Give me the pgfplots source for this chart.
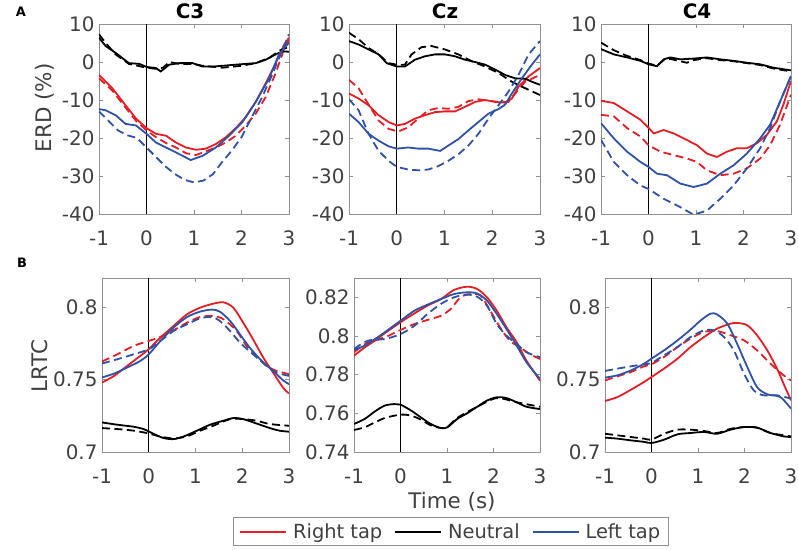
\documentclass[border=0pt]{standalone}
\usepackage{fontspec}
\setmainfont{DejaVu Sans}
\usepackage{pgfplots}
\pgfplotsset{compat=1.18}
\definecolor{cred}{RGB}{228,30,36}
\definecolor{cblue}{RGB}{48,82,165}
\definecolor{axcol}{RGB}{145,145,145}
\definecolor{txtcol}{RGB}{64,64,64}

\pgfplotsset{
  panel/.style={
    scale only axis,
    xmin=-1, xmax=3,
    xtick={-1,0,1,2,3}, xticklabels={-1,0,1,2,3},
    tick align=inside, major tick length=4bp,
    axis line style={axcol, line width=0.9bp},
    tick style={axcol, line width=0.9bp},
    tick label style={font=\fontsize{20}{20}\selectfont, text=txtcol},
    xticklabel style={yshift=-13bp},
    yticklabel style={xshift=-1bp},
  },
  erd/.style={panel, width=190bp, height=190bp, ymin=-40, ymax=10,
    ytick={-40,-30,-20,-10,0,10}, yticklabels={-40,-30,-20,-10,0,10}},
  lrtc/.style={panel, width=186bp, height=174bp},
  rsol/.style={cred, line width=1.8bp},
  rdash/.style={cred, line width=1.8bp, dash pattern=on 8bp off 4.5bp},
  ksol/.style={black, line width=1.8bp},
  kdash/.style={black, line width=1.8bp, dash pattern=on 8bp off 4.5bp},
  bsol/.style={cblue, line width=1.8bp},
  bdash/.style={cblue, line width=1.8bp, dash pattern=on 8bp off 4.5bp},
  zero/.style={black, line width=1.1bp, forget plot},
}

\begin{document}
\begin{tikzpicture}
\useasboundingbox (0,0) rectangle (798bp,550bp);

% ---------- A: ERD ----------
\begin{axis}[erd, at={(99bp,336bp)}, anchor=south west]
\addplot[zero] coordinates {(0,-40) (0,10)};
\addplot[rdash] coordinates {(-1,-4.3) (-0.72,-7.5) (-0.44,-12) (-0.22,-15.5) (0,-18) (0.2,-19.8) (0.41,-21.3) (0.62,-22.5) (0.83,-24) (1.04,-24.5) (1.25,-23.5) (1.46,-22.5) (1.67,-21.2) (1.88,-19.4) (2.09,-16.7) (2.3,-13.6) (2.51,-9.2) (2.72,-2.9) (2.93,4.6) (3,5.8)};
\addplot[rsol] coordinates {(-1,-3.4) (-0.72,-6.9) (-0.44,-11.4) (-0.22,-14.9) (0,-17.4) (0.2,-18.9) (0.41,-19.4) (0.62,-21.2) (0.83,-22.5) (1.04,-23.1) (1.25,-22.8) (1.46,-21.6) (1.67,-19.8) (1.88,-17.4) (2.09,-14.5) (2.3,-10.5) (2.51,-5.6) (2.72,-0.3) (2.9,4.6) (3,6.4)};
\addplot[kdash] coordinates {(-1,7.3) (-0.86,5) (-0.65,2) (-0.37,-0.5) (0,-1.5) (0.2,-1.8) (0.35,-1.5) (0.48,0) (0.69,-0.5) (0.97,-0.5) (1.18,-1) (1.6,-1.5) (2,-1) (2.3,-0.3) (2.6,1.2) (2.8,3) (3,4)};
\addplot[ksol] coordinates {(-1,6.4) (-0.86,4.2) (-0.65,2.4) (-0.37,-0.3) (-0.15,-0.5) (0,-1.3) (0.2,-1.6) (0.3,-2.5) (0.48,-0.7) (0.69,-0.3) (0.97,-0.3) (1.18,-1.2) (1.39,-1.2) (1.6,-1) (1.88,-0.7) (2.09,-0.5) (2.3,-0.3) (2.51,0.6) (2.72,2) (2.86,2.8) (3,2.7)};
\addplot[bdash] coordinates {(-1,-13) (-0.8,-15.5) (-0.6,-18) (-0.4,-19.3) (-0.2,-20) (0,-22.5) (0.2,-25) (0.4,-27.5) (0.6,-29.5) (0.8,-31) (1,-31.7) (1.2,-31.2) (1.4,-29.5) (1.58,-26.5) (1.79,-23.4) (2,-19.8) (2.2,-14.9) (2.42,-9.6) (2.63,-3.8) (2.85,2.8) (3,7.3)};
\addplot[bsol] coordinates {(-1,-12.4) (-0.86,-12.7) (-0.65,-14) (-0.44,-16.3) (-0.22,-16.7) (0,-18.9) (0.2,-21.2) (0.41,-22.5) (0.62,-23.8) (0.93,-25.8) (1.18,-24.7) (1.46,-22.5) (1.74,-19.4) (2.02,-15.8) (2.3,-10.5) (2.58,-4.3) (2.79,2) (3,5.1)};
\end{axis}

\begin{axis}[erd, at={(349bp,336bp)}, anchor=south west, width=191bp]
\addplot[zero] coordinates {(0,-40) (0,10)};
\addplot[rdash] coordinates {(-1,-4.7) (-0.8,-6.9) (-0.6,-11) (-0.38,-15.4) (-0.17,-17.6) (0.03,-18.3) (0.24,-17.2) (0.45,-14.9) (0.66,-12.7) (0.87,-12.1) (1.08,-12.3) (1.29,-11.8) (1.5,-10.3) (1.71,-9.8) (1.92,-10.2) (2.13,-10.5) (2.34,-10.5) (2.48,-8.3) (2.69,-5.2) (3,-3.4)};
\addplot[rsol] coordinates {(-1,-8.3) (-0.8,-9.6) (-0.59,-11.4) (-0.38,-14) (-0.17,-15.8) (0,-16.7) (0.17,-16.3) (0.38,-14.9) (0.59,-14) (0.8,-13.2) (1.01,-13) (1.22,-13) (1.43,-11.8) (1.64,-10.5) (1.85,-10) (2.06,-10.5) (2.27,-10.7) (2.41,-9.6) (2.55,-6.5) (2.76,-3.8) (3,-1.6)};
\addplot[kdash] coordinates {(-1,7.7) (-0.8,6) (-0.59,3.7) (-0.38,2) (-0.17,-0.3) (0,-0.7) (0.17,-0.7) (0.31,2) (0.52,3.9) (0.73,4.2) (1.01,3.3) (1.29,2) (1.57,0.2) (1.85,-1.2) (2.13,-2.9) (2.41,-5.2) (2.69,-6.9) (3,-8.7)};
\addplot[ksol] coordinates {(-1,5.5) (-0.8,4.6) (-0.59,3.3) (-0.38,2) (-0.21,-0.3) (0,-1.2) (0.17,-1.2) (0.38,0.6) (0.59,1.5) (0.8,2) (1.01,2) (1.22,1.5) (1.43,0.6) (1.64,0) (1.85,-0.7) (2.06,-2) (2.27,-3.4) (2.48,-4.3) (2.69,-4.4) (2.83,-5.2) (3,-6)};
\addplot[bdash] coordinates {(-1,-9.8) (-0.8,-12.7) (-0.59,-18.9) (-0.38,-23.4) (-0.17,-26) (0,-27.6) (0.24,-28.3) (0.45,-28.5) (0.66,-28.3) (0.87,-27.4) (1.08,-26) (1.29,-24.3) (1.5,-22) (1.71,-18.9) (1.92,-14.9) (2.13,-11.4) (2.34,-7.8) (2.55,-3.4) (2.76,2) (3,5.5)};
\addplot[bsol] coordinates {(-1,-13.6) (-0.8,-15.8) (-0.59,-18.9) (-0.38,-20.7) (-0.17,-22.2) (0,-22.8) (0.24,-22.5) (0.45,-22.8) (0.66,-22.8) (0.91,-23.4) (1.08,-22) (1.29,-20.3) (1.5,-18) (1.71,-15.8) (1.92,-13.6) (2.13,-12.4) (2.27,-11.2) (2.41,-8.3) (2.62,-4.3) (2.83,-0.7) (3,2)};
\end{axis}

\begin{axis}[erd, at={(601bp,336bp)}, anchor=south west]
\addplot[zero] coordinates {(0,-40) (0,10)};
\addplot[rdash] coordinates {(-1,-13.9) (-0.73,-14.3) (-0.45,-17.4) (-0.17,-19.6) (0,-21.9) (0.25,-23.6) (0.53,-24.5) (0.81,-25.4) (1.02,-26.3) (1.23,-28.5) (1.51,-29.8) (1.79,-29.4) (2.07,-28) (2.35,-25.4) (2.56,-21.9) (2.77,-16.5) (3,-8.6)};
\addplot[rsol] coordinates {(-1,-10.2) (-0.73,-10.8) (-0.45,-13) (-0.17,-15.2) (0,-17.3) (0.11,-18.8) (0.32,-17.9) (0.53,-18.8) (0.74,-20.1) (1.02,-21.9) (1.23,-24.1) (1.44,-25) (1.65,-23.6) (1.86,-22.7) (2.07,-22.7) (2.28,-21.4) (2.49,-19.2) (2.7,-15.7) (2.84,-11.2) (3,-5)};
\addplot[kdash] coordinates {(-1,5.1) (-0.73,3.1) (-0.45,1.6) (-0.17,0.5) (0,-0.4) (0.18,-1) (0.32,0.5) (0.46,0.8) (0.67,0.2) (0.81,-0.2) (0.95,0.5) (1.23,1) (1.51,0.5) (1.79,0.2) (2.07,-0.3) (2.35,-0.8) (2.63,-1.7) (3,-2.5)};
\addplot[ksol] coordinates {(-1,3.4) (-0.73,2) (-0.45,1.2) (-0.17,0.3) (0,-0.6) (0.18,-1.1) (0.32,0.7) (0.46,1.2) (0.67,0.7) (0.95,0.9) (1.23,1.2) (1.51,0.7) (1.79,0.3) (2.07,-0.2) (2.35,-0.6) (2.63,-1.5) (2.84,-1.9) (3,-2.2)};
\addplot[bdash] coordinates {(-1,-20.5) (-0.73,-26.3) (-0.45,-29.8) (-0.17,-32.5) (0,-33.4) (0.32,-36) (0.67,-38.2) (0.95,-40.2) (1.23,-39.1) (1.51,-36) (1.79,-32.5) (2.07,-28) (2.35,-22.7) (2.56,-17.4) (2.77,-10.4) (3,-3.7)};
\addplot[bsol] coordinates {(-1,-16.1) (-0.73,-20.1) (-0.45,-23.6) (-0.17,-26.3) (0,-27.6) (0.18,-29.4) (0.39,-29.8) (0.67,-32) (0.95,-32.9) (1.23,-32) (1.51,-29.4) (1.79,-27.2) (2.07,-24.1) (2.35,-20.1) (2.56,-16.5) (2.77,-10.4) (3,-3.7)};
\end{axis}

% ---------- B: LRTC ----------
\begin{axis}[lrtc, at={(102bp,98bp)}, anchor=south west, width=187bp,
  ymin=0.7, ymax=0.82, ytick={0.7,0.75,0.8}, yticklabels={0.7,0.75,0.8}]
\addplot[zero] coordinates {(0,0.7) (0,0.82)};
\addplot[rdash, smooth] coordinates {(-1,0.7624) (-0.67,0.7674) (-0.32,0.7732) (0,0.7766) (0.25,0.7794) (0.53,0.7839) (0.82,0.7892) (1.1,0.7931) (1.38,0.7938) (1.6,0.7915) (1.88,0.7835) (2.09,0.7732) (2.3,0.7663) (2.52,0.7594) (2.73,0.756) (3,0.7537)};
\addplot[rsol, smooth] coordinates {(-1,0.7479) (-0.74,0.7525) (-0.46,0.7594) (-0.18,0.7663) (0,0.7709) (0.25,0.7789) (0.53,0.7869) (0.82,0.795) (1.1,0.7995) (1.38,0.8023) (1.6,0.8032) (1.81,0.7995) (2.02,0.7892) (2.23,0.7778) (2.45,0.7651) (2.66,0.7548) (2.87,0.7445) (3,0.7404)};
\addplot[kdash, smooth] coordinates {(-1,0.7165) (-0.67,0.7158) (-0.32,0.7147) (0,0.7128) (0.25,0.7106) (0.53,0.7094) (0.82,0.7108) (1.1,0.7147) (1.38,0.7181) (1.74,0.7227) (2.02,0.7227) (2.3,0.7216) (2.59,0.7193) (3,0.7181)};
\addplot[ksol, smooth] coordinates {(-1,0.7204) (-0.67,0.7188) (-0.32,0.7174) (-0.11,0.7158) (0.11,0.7124) (0.32,0.7096) (0.53,0.7089) (0.74,0.7106) (1.03,0.7147) (1.31,0.7188) (1.6,0.7216) (1.81,0.7234) (2.02,0.7227) (2.3,0.7197) (2.59,0.7165) (2.8,0.7147) (3,0.714)};
\addplot[bdash, smooth] coordinates {(-1,0.761) (-0.67,0.764) (-0.32,0.7674) (0,0.7709) (0.25,0.7766) (0.53,0.7835) (0.82,0.7881) (1.1,0.7922) (1.35,0.7931) (1.52,0.7904) (1.74,0.7835) (1.95,0.7755) (2.23,0.7674) (2.52,0.7594) (2.73,0.7548) (3,0.7525)};
\addplot[bsol, smooth] coordinates {(-1,0.7514) (-0.74,0.7541) (-0.46,0.7583) (-0.18,0.7628) (0,0.7674) (0.25,0.7766) (0.53,0.7858) (0.82,0.7931) (1.1,0.7968) (1.35,0.7982) (1.52,0.7968) (1.74,0.7904) (1.95,0.7812) (2.16,0.772) (2.45,0.7617) (2.66,0.756) (2.87,0.7495) (3,0.7468)};
\end{axis}

\begin{axis}[lrtc, at={(354bp,98bp)}, anchor=south west,
  ymin=0.74, ymax=0.83, ytick={0.74,0.76,0.78,0.8,0.82}, yticklabels={0.74,0.76,0.78,0.8,0.82},
  legend columns=3,
  legend image code/.code={\draw[#1] (0bp,0bp) -- (46bp,0bp);},
  legend style={at={(0.52,-0.374)}, anchor=north, draw=axcol, line width=0.9bp,
    font=\fontsize{19.5}{19.5}\selectfont, text=txtcol, inner xsep=6bp, inner ysep=4bp,
    /tikz/every odd column/.append style={column sep=4bp},
    /tikz/every even column/.append style={column sep=10bp}}]
\addplot[zero] coordinates {(0,0.74) (0,0.83)};
\addplot[rdash, smooth, forget plot] coordinates {(-1,0.7916) (-0.7,0.7967) (-0.34,0.7993) (0,0.8031) (0.3,0.8062) (0.58,0.8083) (0.87,0.8105) (1.08,0.814) (1.29,0.82) (1.5,0.8217) (1.72,0.8209) (1.93,0.8131) (2.14,0.8045) (2.35,0.7976) (2.57,0.7941) (2.78,0.7907) (3,0.7881)};
\addplot[rsol, smooth, forget plot] coordinates {(-1,0.7898) (-0.77,0.7941) (-0.55,0.7976) (-0.34,0.8014) (0,0.8071) (0.3,0.8117) (0.58,0.8157) (0.87,0.8191) (1.15,0.8238) (1.43,0.8255) (1.65,0.8243) (1.86,0.82) (2.07,0.8131) (2.28,0.8045) (2.5,0.7967) (2.71,0.7872) (3,0.7769)};
\addplot[kdash, smooth, forget plot] coordinates {(-1,0.7514) (-0.77,0.7528) (-0.55,0.7553) (-0.34,0.7576) (0,0.7593) (0.23,0.7588) (0.44,0.7567) (0.65,0.7538) (0.87,0.7524) (1.01,0.753) (1.22,0.7576) (1.65,0.7634) (2.07,0.7679) (2.5,0.7657) (3,0.7634)};
\addplot[ksol, smooth, forget plot] coordinates {(-1,0.7545) (-0.77,0.7571) (-0.55,0.761) (-0.34,0.764) (-0.13,0.7648) (0,0.7645) (0.23,0.7614) (0.44,0.7579) (0.65,0.7545) (0.87,0.7524) (1.01,0.7528) (1.22,0.7571) (1.43,0.76) (1.65,0.7634) (1.86,0.7666) (2.07,0.7683) (2.28,0.7679) (2.5,0.7657) (2.71,0.7634) (3,0.7622)};
\addplot[bdash, smooth, forget plot] coordinates {(-1,0.7933) (-0.7,0.7976) (-0.34,0.7984) (0,0.801) (0.3,0.8053) (0.58,0.8114) (0.87,0.8166) (1.15,0.82) (1.43,0.8214) (1.65,0.8203) (1.86,0.8157) (2.07,0.8062) (2.28,0.8002) (2.5,0.7959) (2.71,0.7916) (3,0.789)};
\addplot[bsol, smooth, forget plot] coordinates {(-1,0.7928) (-0.77,0.795) (-0.55,0.7984) (-0.34,0.8019) (0,0.8079) (0.3,0.8131) (0.58,0.8162) (0.87,0.8191) (1.15,0.8217) (1.43,0.8226) (1.65,0.822) (1.86,0.8183) (2.07,0.8114) (2.28,0.8036) (2.5,0.795) (2.71,0.7864) (3,0.7778)};
\addlegendimage{cred, line width=1.8bp}
\addlegendentry{Right tap}
\addlegendimage{black, line width=1.8bp}
\addlegendentry{Neutral}
\addlegendimage{cblue, line width=1.8bp}
\addlegendentry{Left tap}
\end{axis}

\begin{axis}[lrtc, at={(605bp,98bp)}, anchor=south west,
  ymin=0.7, ymax=0.82, ytick={0.7,0.75,0.8}, yticklabels={0.7,0.75,0.8}]
\addplot[zero] coordinates {(0,0.7) (0,0.82)};
\addplot[rdash, smooth] coordinates {(-1,0.7494) (-0.73,0.7522) (-0.44,0.7552) (-0.16,0.7591) (0,0.7605) (0.27,0.7655) (0.56,0.7724) (0.84,0.7782) (1.13,0.7828) (1.41,0.7834) (1.7,0.7805) (1.99,0.777) (2.27,0.7701) (2.56,0.7609) (2.84,0.7529) (3,0.7494)};
\addplot[rsol, smooth] coordinates {(-1,0.7352) (-0.73,0.7379) (-0.44,0.743) (-0.16,0.7483) (0,0.7517) (0.27,0.7575) (0.56,0.7644) (0.84,0.7724) (1.13,0.7793) (1.41,0.7851) (1.7,0.7885) (1.84,0.789) (2.06,0.7874) (2.27,0.7805) (2.49,0.7701) (2.7,0.7575) (2.84,0.7471) (3,0.7356)};
\addplot[kdash, smooth] coordinates {(-1,0.7126) (-0.73,0.7115) (-0.44,0.7103) (-0.16,0.7092) (0,0.7085) (0.27,0.7126) (0.56,0.7154) (0.84,0.7154) (1.13,0.7145) (1.41,0.7131) (1.7,0.716) (1.99,0.7172) (2.27,0.7168) (2.56,0.7131) (3,0.7108)};
\addplot[ksol, smooth] coordinates {(-1,0.7099) (-0.73,0.7092) (-0.44,0.708) (-0.16,0.707) (0,0.7062) (0.27,0.7085) (0.56,0.7122) (0.84,0.7131) (1.13,0.7138) (1.41,0.7126) (1.7,0.7154) (1.99,0.7172) (2.27,0.7168) (2.56,0.7131) (2.84,0.7108) (3,0.7103)};
\addplot[bdash, smooth] coordinates {(-1,0.7559) (-0.73,0.7575) (-0.44,0.7591) (-0.16,0.7605) (0,0.7614) (0.27,0.7667) (0.56,0.7724) (0.84,0.7793) (1.13,0.7839) (1.34,0.7839) (1.56,0.7793) (1.77,0.7701) (1.99,0.754) (2.2,0.7425) (2.41,0.7391) (2.7,0.7391) (3,0.7368)};
\addplot[bsol, smooth] coordinates {(-1,0.7513) (-0.73,0.7529) (-0.44,0.7563) (-0.16,0.7609) (0,0.7644) (0.27,0.7701) (0.56,0.777) (0.84,0.7844) (1.06,0.7908) (1.27,0.7954) (1.41,0.7949) (1.63,0.7885) (1.84,0.7747) (2.06,0.7586) (2.27,0.7448) (2.49,0.7398) (2.77,0.7379) (3,0.7299)};
\end{axis}

% ---------- labels ----------
\node[font=\bfseries\fontsize{13}{13}\selectfont] at (21bp,538bp) {A};
\node[font=\bfseries\fontsize{13}{13}\selectfont] at (22bp,287bp) {B};
\node[font=\bfseries\fontsize{20}{20}\selectfont] at (190bp,539bp) {C3};
\node[font=\bfseries\fontsize{20}{20}\selectfont] at (445bp,539bp) {Cz};
\node[font=\bfseries\fontsize{20}{20}\selectfont] at (697bp,539bp) {C4};
\node[rotate=90, text=txtcol, font=\fontsize{21.5}{21.5}\selectfont] at (45bp,442bp) {ERD (\%)};
\node[rotate=90, text=txtcol, font=\fontsize{21.5}{21.5}\selectfont] at (40bp,184bp) {LRTC};
\node[text=txtcol, font=\fontsize{21.5}{21.5}\selectfont] at (452bp,48bp) {Time (s)};
\end{tikzpicture}
\end{document}
